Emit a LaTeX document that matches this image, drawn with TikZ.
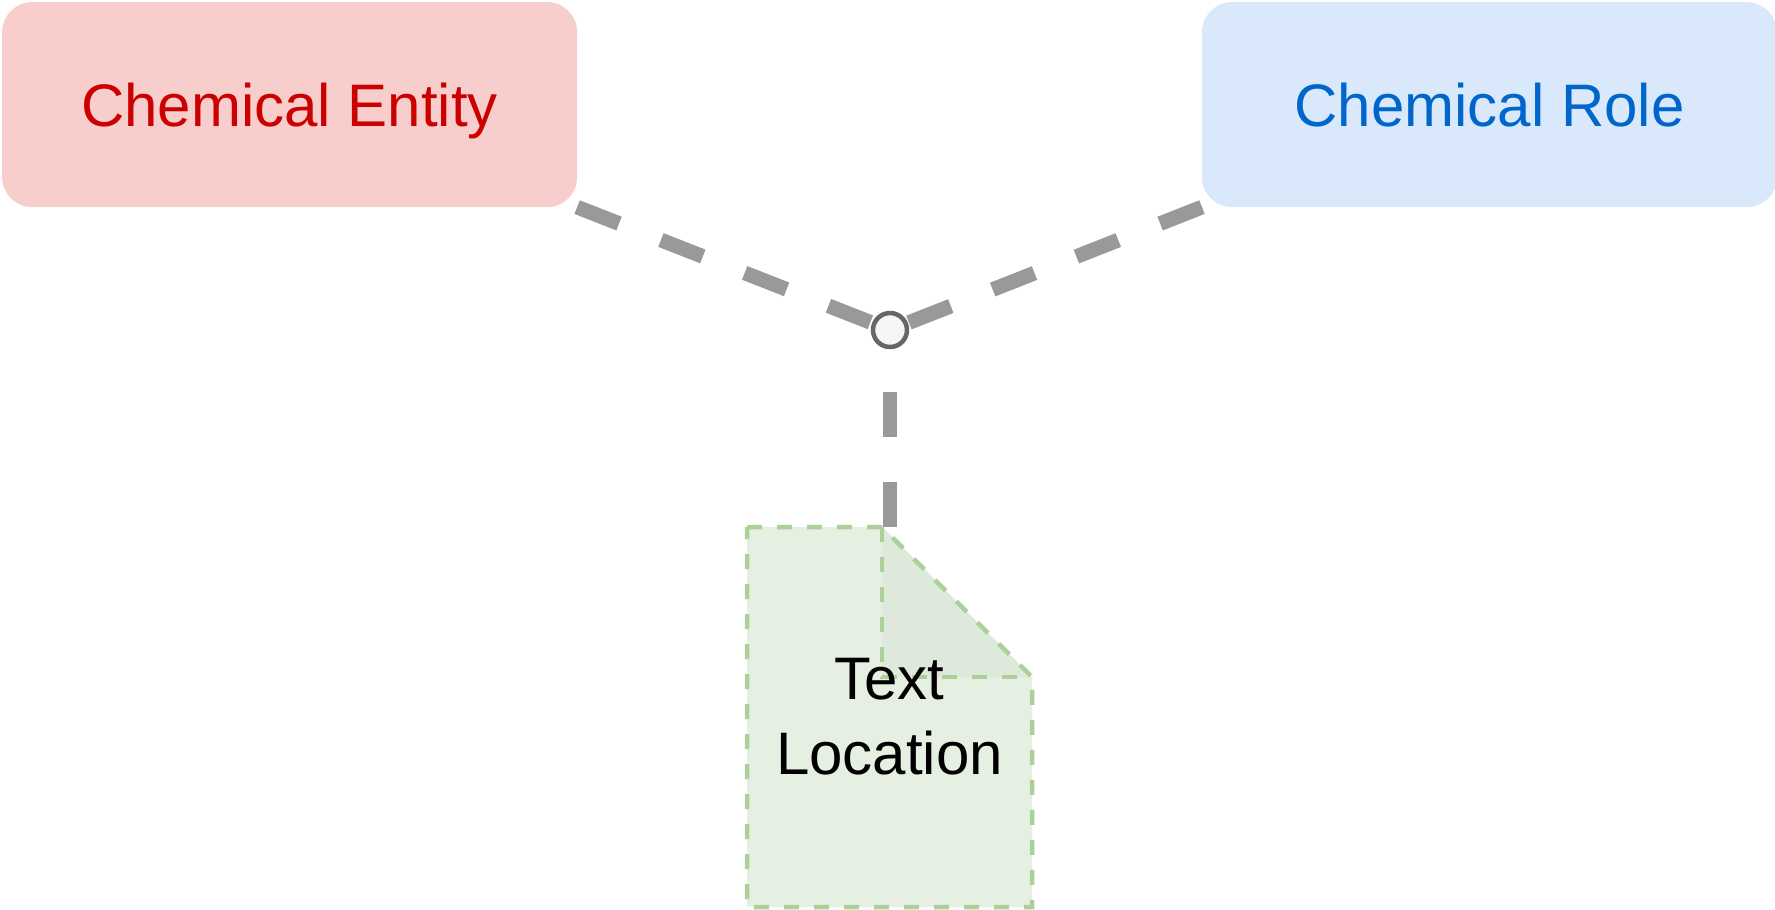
\documentclass[tikz,border=0pt]{standalone}
\usepackage{fontspec}
\setmainfont{Liberation Sans}
\usetikzlibrary{backgrounds}
\definecolor{entfill}{HTML}{F8CECC}
\definecolor{entred}{HTML}{CC0000}
\definecolor{rolefill}{HTML}{DAE8FC}
\definecolor{roleblue}{HTML}{0066CC}
\definecolor{conngray}{HTML}{999999}
\definecolor{hubfill}{HTML}{F5F5F5}
\definecolor{hubline}{HTML}{666666}
\definecolor{docfill}{HTML}{E5F0E3}
\definecolor{foldfill}{HTML}{DEE8DB}
\definecolor{docline}{HTML}{ACD09A}
\tikzset{
  conceptbox/.style={rectangle, rounded corners=30pt, minimum width=575pt, minimum height=205pt,
    inner sep=0pt, outer sep=0pt, text depth=0pt, font=\fontsize{60}{72}\selectfont},
  conn/.style={draw=conngray, line width=14.7pt, dash pattern=on 45pt off 45pt, line cap=butt},
  hubnode/.style={circle, draw=hubline, fill=hubfill, line width=4.5pt, minimum size=34pt, inner sep=0pt},
  docnode/.style={rectangle, minimum width=285pt, minimum height=380pt, inner sep=0pt, outer sep=0pt,
    align=center, font=\fontsize{60}{75}\selectfont},
  docedge/.style={draw=docline, line width=4.5pt, dash pattern=on 15pt off 15pt},
}
\begin{document}
\begin{tikzpicture}[x=1pt, y=-1pt]
\useasboundingbox (0,0) rectangle (1775,910);
\node[conceptbox, fill=entfill, text=entred] (entity) at (289.65,104.6) {Chemical Entity};
\node[conceptbox, fill=rolefill, text=roleblue] (role) at (1489.5,104.6) {Chemical Role};
\node[docnode] (doc) at (889.5,717) {Text\\Location};
\begin{scope}[on background layer]
  \fill[docfill] (doc.north west) -- ([xshift=-150pt]doc.north east) -- ([yshift=-150pt]doc.north east)
     -- (doc.south east) -- (doc.south west) -- cycle;
  \fill[foldfill] ([xshift=-150pt]doc.north east) -- ([yshift=-150pt]doc.north east)
     -- ([xshift=-150pt,yshift=-150pt]doc.north east) -- cycle;
  \draw[docedge] (doc.north west) -- ([xshift=-150pt]doc.north east) -- ([yshift=-150pt]doc.north east)
     -- (doc.south east) -- (doc.south west) -- cycle;
  \draw[docedge] ([xshift=-150pt]doc.north east) -- ([xshift=-150pt,yshift=-150pt]doc.north east)
     -- ([yshift=-150pt]doc.north east);
\end{scope}
\node[hubnode] (hub) at (890,330) {};
\draw[conn] (entity.south east) -- (hub);
\draw[conn] (role.south west) -- (hub);
\draw[conn] (hub |- doc.north) -- (hub);
\end{tikzpicture}
\end{document}
